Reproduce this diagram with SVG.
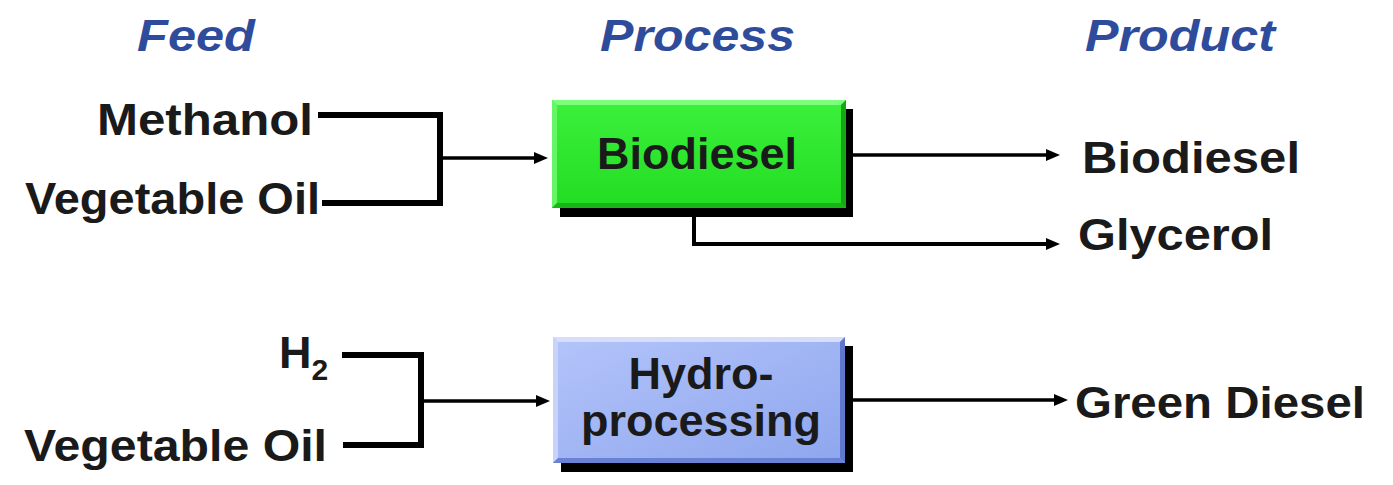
<svg xmlns="http://www.w3.org/2000/svg" width="1393" height="485" viewBox="0 0 1393 485">
<style>
.t{font-family:"Liberation Sans",Arial,sans-serif;font-weight:bold;font-size:45px;fill:#1a1a1a}
.h{font-family:"Liberation Sans",Arial,sans-serif;font-weight:bold;font-style:italic;font-size:45px;fill:#2f4c9c}
.br{fill:none;stroke:#000;stroke-width:6}
.ar{fill:none;stroke:#000;stroke-width:3.5;marker-end:url(#ah)}
</style>
<defs>
<marker id="ah" markerUnits="userSpaceOnUse" markerWidth="14" markerHeight="12" refX="3" refY="6" orient="auto">
<path d="M0,0 L14,6 L0,12 Z" fill="#000"/>
</marker>
<linearGradient id="gg" x1="0" y1="0" x2="0" y2="1">
<stop offset="0" stop-color="#3cf03c"/><stop offset="1" stop-color="#22dd22"/>
</linearGradient>
<linearGradient id="bg" x1="0" y1="0" x2="1" y2="1">
<stop offset="0" stop-color="#b4c4fa"/><stop offset="1" stop-color="#8ea6ee"/>
</linearGradient>
</defs>
<rect width="1393" height="485" fill="#fff"/>

<g id="headers">
<text class="h" x="137" y="51" textLength="118" lengthAdjust="spacingAndGlyphs">Feed</text>
<text class="h" x="600" y="51" textLength="195" lengthAdjust="spacingAndGlyphs">Process</text>
<text class="h" x="1085" y="51" textLength="190" lengthAdjust="spacingAndGlyphs">Product</text>
</g>

<g id="connectors">
<path class="br" d="M318,115 H440 V203 H322"/>
<path class="ar" d="M440,158 H537"/>
<path class="ar" d="M853,155 H1049"/>
<path class="ar" d="M694,214 V244 H1049" style="stroke-width:4"/>
<path class="br" d="M342,355 H421 V445 H343"/>
<path class="ar" d="M421,401 H539"/>
<path class="ar" d="M853,400 H1057"/>
</g>

<g id="feed-methanol"><text class="t" x="313" y="135" text-anchor="end" textLength="216" lengthAdjust="spacingAndGlyphs">Methanol</text></g>
<g id="feed-vegoil-1"><text class="t" x="25" y="214" textLength="295" lengthAdjust="spacingAndGlyphs">Vegetable Oil</text></g>
<g id="feed-h2"><text class="t" x="279" y="368" font-size="44">H<tspan font-size="30" dy="12">2</tspan></text></g>
<g id="feed-vegoil-2"><text class="t" x="24" y="461" textLength="303" lengthAdjust="spacingAndGlyphs">Vegetable Oil</text></g>

<g id="process-biodiesel">
<rect x="560" y="109" width="293" height="108" fill="#000"/>
<rect x="552" y="100" width="294" height="108" fill="url(#gg)"/>
<polygon points="552,100 846,100 841,105 557,105" fill="#7dff7d"/>
<polygon points="552,100 557,105 557,203 552,208" fill="#66f566"/>
<polygon points="846,100 846,208 841,203 841,105" fill="#15a815"/>
<polygon points="552,208 846,208 841,203 557,203" fill="#18b418"/>
<text class="t" x="697" y="169" text-anchor="middle">Biodiesel</text>
</g>

<g id="process-hydro">
<rect x="561" y="346" width="292" height="126" fill="#000"/>
<rect x="553" y="337" width="292" height="126" fill="url(#bg)"/>
<polygon points="553,337 845,337 840,342 558,342" fill="#d6defc"/>
<polygon points="553,337 558,342 558,458 553,463" fill="#c8d3fa"/>
<polygon points="845,337 845,463 840,458 840,342" fill="#5f78cc"/>
<polygon points="553,463 845,463 840,458 558,458" fill="#6a82d4"/>
<text class="t" x="701" y="389" text-anchor="middle" font-size="44">Hydro-</text>
<text class="t" x="701" y="436" text-anchor="middle" font-size="44">processing</text>
</g>

<g id="product-biodiesel"><text class="t" x="1082" y="173" textLength="218" lengthAdjust="spacingAndGlyphs">Biodiesel</text></g>
<g id="product-glycerol"><text class="t" x="1078" y="250" textLength="195" lengthAdjust="spacingAndGlyphs">Glycerol</text></g>
<g id="product-greendiesel"><text class="t" x="1075" y="418" textLength="290" lengthAdjust="spacingAndGlyphs">Green Diesel</text></g>
</svg>
